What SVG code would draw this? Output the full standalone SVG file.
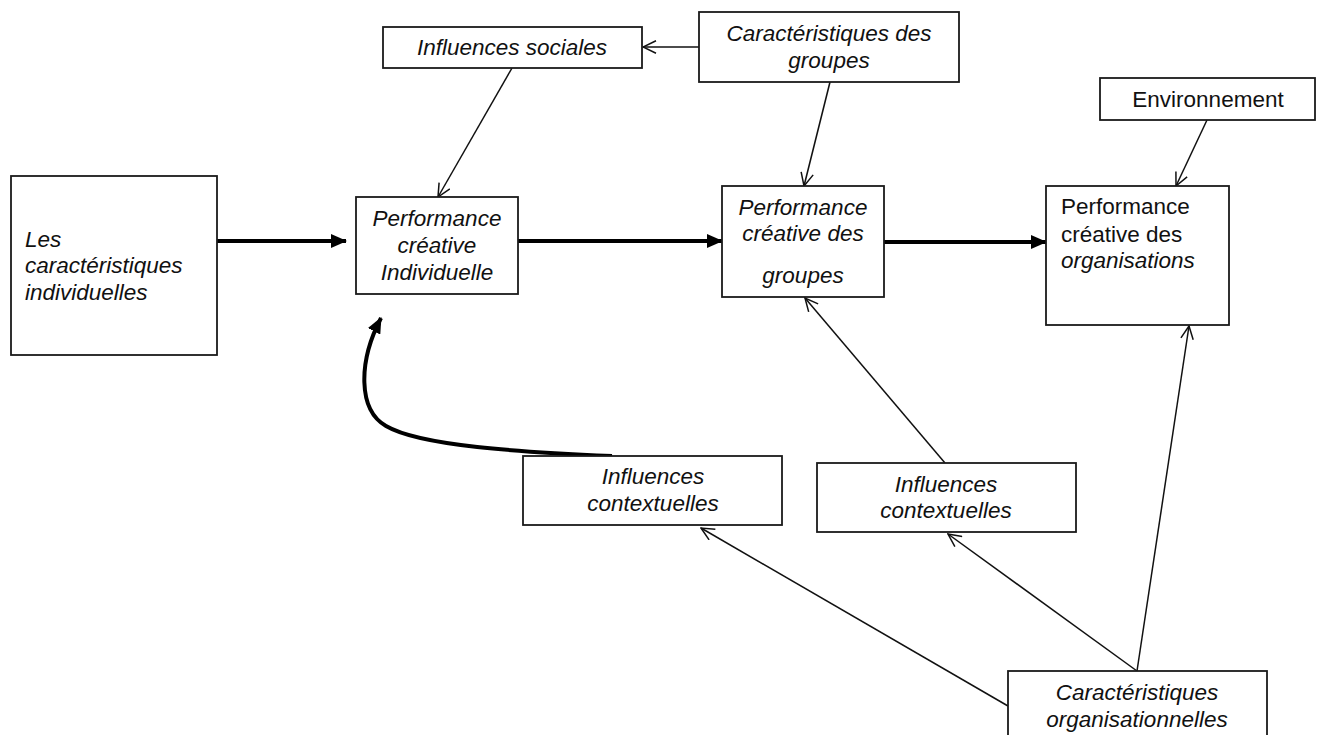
<svg xmlns="http://www.w3.org/2000/svg" width="1323" height="735" viewBox="0 0 1323 735">
<style>
.box{fill:#fff;stroke:#1a1a1a;stroke-width:1.8}
.t{font-family:"Liberation Sans",Arial,sans-serif;font-size:22.5px;fill:#111}
.i{font-style:italic}
.c{text-anchor:middle}
.thin{fill:none;stroke:#111;stroke-width:1.5}
.thick{fill:none;stroke:#000;stroke-width:4}
</style>
<defs>
<marker id="open" markerUnits="userSpaceOnUse" viewBox="0 0 15 14" refX="14" refY="7" markerWidth="15" markerHeight="14" orient="auto">
<path d="M1,0.8 L14,7 L1,13.2" fill="none" stroke="#111" stroke-width="1.5"/>
</marker>
<marker id="solid" markerUnits="userSpaceOnUse" viewBox="0 0 16 14" refX="15" refY="7" markerWidth="16" markerHeight="14" orient="auto">
<path d="M0,0 L16,7 L0,14 Z" fill="#000"/>
</marker>
</defs>
<rect width="1323" height="735" fill="#fff"/>
<g id="connectors">
<line class="thin" x1="699" y1="47" x2="643" y2="47" marker-end="url(#open)"/>
<line class="thin" x1="512" y1="68" x2="438" y2="197" marker-end="url(#open)"/>
<line class="thin" x1="830" y1="82" x2="804" y2="186" marker-end="url(#open)"/>
<line class="thin" x1="1207" y1="120" x2="1176" y2="186" marker-end="url(#open)"/>
<line class="thin" x1="945" y1="463" x2="805" y2="298" marker-end="url(#open)"/>
<line class="thin" x1="1137" y1="671" x2="1189" y2="326" marker-end="url(#open)"/>
<line class="thin" x1="1137" y1="671" x2="948" y2="534" marker-end="url(#open)"/>
<line class="thin" x1="1008" y1="706" x2="701" y2="528" marker-end="url(#open)"/>
<line class="thick" x1="217" y1="241" x2="346" y2="241" marker-end="url(#solid)"/>
<line class="thick" x1="518" y1="241" x2="722" y2="241" marker-end="url(#solid)"/>
<line class="thick" x1="884" y1="242" x2="1046" y2="242" marker-end="url(#solid)"/>
<path class="thick" d="M612,456 C520,452 420,446 386,426 C358,410 358,362 381,318" marker-end="url(#solid)"/>
</g>
<g id="n-les-caracteristiques">
<rect class="box" x="11" y="176" width="206" height="179"/>
<text class="t i" x="25" y="247">Les</text>
<text class="t i" x="25" y="273">caractéristiques</text>
<text class="t i" x="25" y="300">individuelles</text>
</g>
<g id="n-influences-sociales">
<rect class="box" x="383" y="27" width="259" height="41"/>
<text class="t i c" x="512" y="55">Influences sociales</text>
</g>
<g id="n-caract-groupes">
<rect class="box" x="699" y="12" width="260" height="70"/>
<text class="t i c" x="829" y="41">Caractéristiques des</text>
<text class="t i c" x="829" y="68">groupes</text>
</g>
<g id="n-perf-indiv">
<rect class="box" x="356" y="197" width="162" height="97"/>
<text class="t i c" x="437" y="226">Performance</text>
<text class="t i c" x="437" y="253">créative</text>
<text class="t i c" x="437" y="280">Individuelle</text>
</g>
<g id="n-perf-groupes">
<rect class="box" x="722" y="186" width="162" height="111"/>
<text class="t i c" x="803" y="215">Performance</text>
<text class="t i c" x="803" y="241">créative des</text>
<text class="t i c" x="803" y="283">groupes</text>
</g>
<g id="n-environnement">
<rect class="box" x="1100" y="78" width="215" height="42"/>
<text class="t c" x="1208" y="107">Environnement</text>
</g>
<g id="n-perf-orgs">
<rect class="box" x="1046" y="186" width="183" height="139"/>
<text class="t" x="1061" y="214">Performance</text>
<text class="t" x="1061" y="242">créative des</text>
<text class="t i" x="1061" y="268">organisations</text>
</g>
<g id="n-influences-ctx-1">
<rect class="box" x="523" y="456" width="259" height="69"/>
<text class="t i c" x="653" y="484">Influences</text>
<text class="t i c" x="653" y="511">contextuelles</text>
</g>
<g id="n-influences-ctx-2">
<rect class="box" x="817" y="463" width="259" height="69"/>
<text class="t i c" x="946" y="492">Influences</text>
<text class="t i c" x="946" y="518">contextuelles</text>
</g>
<g id="n-caract-org">
<rect class="box" x="1008" y="671" width="259" height="80"/>
<text class="t i c" x="1137" y="700">Caractéristiques</text>
<text class="t i c" x="1137" y="727">organisationnelles</text>
</g>
</svg>
